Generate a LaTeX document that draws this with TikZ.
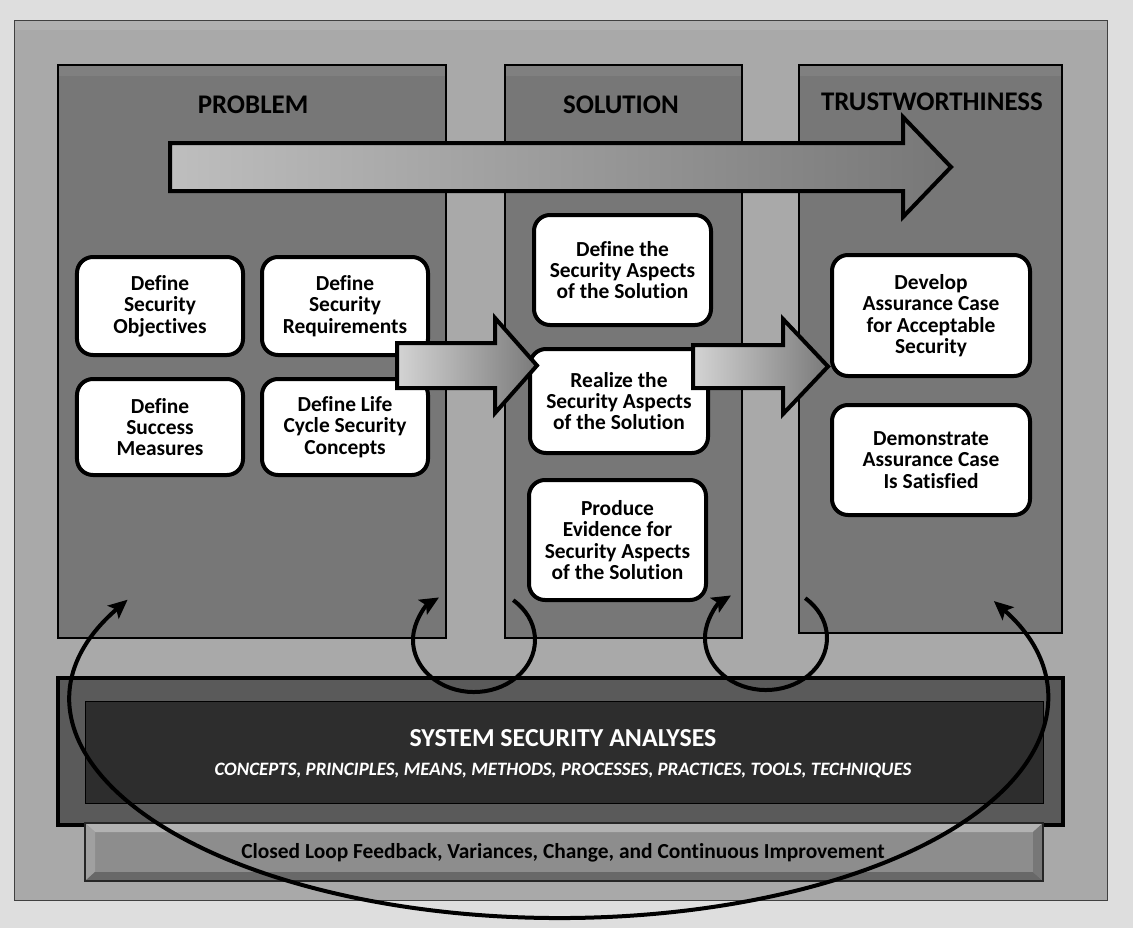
\documentclass[tikz,border=0pt]{standalone}
\usepackage{fontspec}
\setmainfont{Carlito}[Ligatures=NoCommon]
\usetikzlibrary{arrows.meta}
\definecolor{bgc}{HTML}{DEDEDE}
\definecolor{outerc}{HTML}{A9A9A9}
\definecolor{outertop}{HTML}{B0B0B0}
\definecolor{panelc}{HTML}{777777}
\definecolor{paneltop}{HTML}{808080}
\definecolor{ssaouter}{HTML}{5A5A5A}
\definecolor{ssainner}{HTML}{2D2D2D}
\definecolor{barc}{HTML}{8D8D8D}
\definecolor{bartop}{HTML}{B2B2B2}
\definecolor{barleft}{HTML}{A0A0A0}
\definecolor{barbottom}{HTML}{686868}
\definecolor{barright}{HTML}{777777}
\definecolor{arrlight}{HTML}{D4D4D4}
\definecolor{arrdark}{HTML}{7A7A7A}
\definecolor{bigarrlight}{HTML}{BEBEBE}
\definecolor{bigarrdark}{HTML}{777777}
\tikzset{
  panel/.style={fill=panelc, draw=black, line width=1.5bp},
  heading/.style={font=\bfseries\fontsize{27}{30}\selectfont, text=black, inner sep=0},
  box/.style={draw=black, line width=4bp, fill=white, rounded corners=16bp,
    align=center, inner sep=0, font=\bfseries\fontsize{21.5}{21.5}\selectfont},
  blockarrow/.style={draw=black, line width=4bp, miter limit=10,
    left color=arrlight, right color=arrdark},
  bigblockarrow/.style={draw=black, line width=4bp, miter limit=10,
    left color=bigarrlight, right color=bigarrdark},
  looparrow/.style={draw=black, line width=4bp,
    -{Stealth[length=19bp,width=17bp,inset=4bp]}},
  bigloop/.style={draw=black, line width=4bp,
    {Stealth[length=19bp,width=17bp,inset=4bp]}-{Stealth[length=19bp,width=17bp,inset=4bp]}}
}
\begin{document}
\begin{tikzpicture}[x=1bp,y=-1bp]
\useasboundingbox (0,0) rectangle (1133,928);
\fill[bgc] (0,0) rectangle (1133,928);
% outer panel
\draw[fill=outerc, draw=black!75, line width=1bp] (14,20) rectangle (1107,900);
\fill[outertop] (14.5,20.5) rectangle (1106.5,30);
% column panels
\draw[panel] (58,65) rectangle (446,638);
\fill[paneltop] (59,66) rectangle (445,76);
\draw[panel] (505,65) rectangle (742,638);
\fill[paneltop] (506,66) rectangle (741,76);
\draw[panel] (799,65) rectangle (1062,633);
\fill[paneltop] (800,66) rectangle (1061,76);
\node[heading] (problem) at (253,105) {PROBLEM};
\node[heading] (solution) at (621,105) {SOLUTION};
\node[heading] (trust) at (932,102) {TRUSTWORTHINESS};
% big arrow
\draw[bigblockarrow] (170,143) -- (903,143) -- (903,117) -- (951,167) -- (903,217) -- (903,191) -- (170,191) -- cycle;
% boxes
\node[box, minimum width=166bp, minimum height=98bp] (obj) at (160,306) {Define\\Security\\Objectives};
\node[box, minimum width=166bp, minimum height=98bp] (req) at (345,306) {Define\\Security\\Requirements};
\node[box, minimum width=166bp, minimum height=96bp] (succ) at (160,427) {Define\\Success\\Measures};
\node[box, minimum width=166bp, minimum height=96bp] (lc) at (345,427) {Define Life\\Cycle Security\\Concepts};
\node[box, minimum width=177bp, minimum height=110bp] (defsol) at (622.5,270) {Define the\\Security Aspects\\of the Solution};
\node[box, minimum width=178bp, minimum height=104bp] (real) at (619,401) {Realize the\\Security Aspects\\of the Solution};
\node[box, minimum width=177bp, minimum height=120bp] (prod) at (617.5,540) {Produce\\Evidence for\\Security Aspects\\of the Solution};
\node[box, minimum width=198bp, minimum height=121bp] (dev) at (931,315.5) {Develop\\Assurance Case\\for Acceptable\\Security};
\node[box, minimum width=198bp, minimum height=110bp] (dem) at (931,460) {Demonstrate\\Assurance Case\\Is Satisfied};
% block arrows
\draw[blockarrow] (397,343) -- (495,343) -- (495,318) -- (537,365.5) -- (495,413) -- (495,388) -- (397,388) -- cycle;
\draw[blockarrow] (693,345) -- (783,345) -- (783,319) -- (828,366.5) -- (783,414) -- (783,388) -- (693,388) -- cycle;
% system security analyses
\draw[fill=ssaouter, draw=black, line width=3.5bp] (58,678) rectangle (1063,825);
\draw[fill=ssainner, draw=black, line width=1bp] (85,701) rectangle (1043,803);
\node[font=\bfseries\fontsize{26}{28}\selectfont, text=white, inner sep=0] (ssa) at (563,738) {SYSTEM SECURITY ANALYSES};
\node[font=\bfseries\itshape\fontsize{19}{21}\selectfont, text=white, inner sep=0] (ssasub) at (563,771) {CONCEPTS, PRINCIPLES, MEANS, METHODS, PROCESSES, PRACTICES, TOOLS, TECHNIQUES};
% closed loop bar (bevelled)
\fill[barc] (85,823) rectangle (1043,881);
\fill[bartop] (85,823) -- (1043,823) -- (1033,832) -- (95,832) -- cycle;
\fill[barleft] (85,823) -- (95,832) -- (95,872) -- (85,881) -- cycle;
\fill[barbottom] (85,881) -- (95,872) -- (1033,872) -- (1043,881) -- cycle;
\fill[barright] (1043,823) -- (1033,832) -- (1033,872) -- (1043,881) -- cycle;
\draw[black!85, line width=1.2bp] (85,823) rectangle (1043,881);
\node[font=\bfseries\fontsize{21.5}{24}\selectfont, inner sep=0] (clf) at (563,853) {Closed Loop Feedback, Variances, Change, and Continuous Improvement};
% loops
\draw[bigloop] (127.6,599.7) arc[start angle=207.4, end angle=-27, x radius=487, y radius=218];
\draw[looparrow] (513.2,600.2) arc[start angle=-50, end angle=235, x radius=61, y radius=52];
\draw[looparrow] (805.2,598.2) arc[start angle=-50, end angle=235, x radius=61, y radius=52];
\end{tikzpicture}
\end{document}
